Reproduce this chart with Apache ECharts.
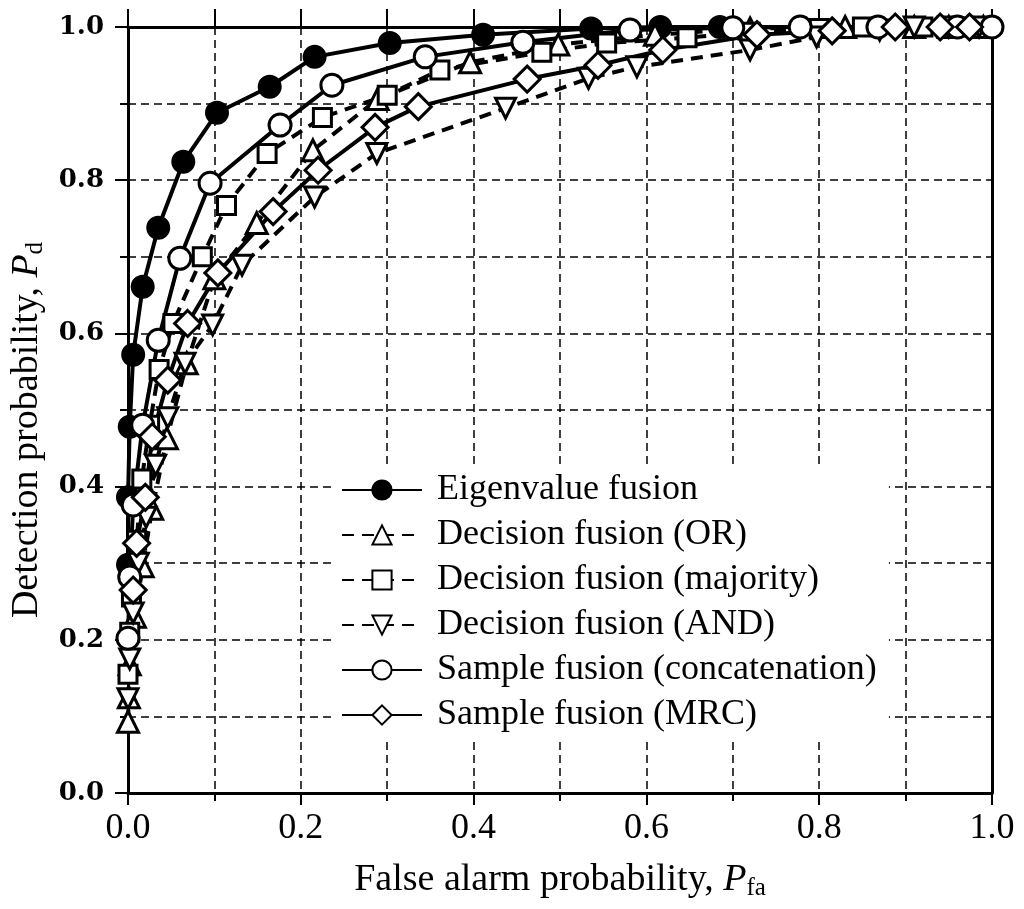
<!DOCTYPE html>
<html>
<head>
<meta charset="utf-8">
<script src="https://cdn.jsdelivr.net/npm/echarts@6/dist/echarts.min.js"></script>
<style>html,body{margin:0;padding:0;background:#fff}#c{width:1024px;height:909px}</style>
</head>
<body>
<div id="c"></div>
<script>
// ---- data (x = false alarm probability, y = detection probability) ----
const seriesNames = [
  'Eigenvalue fusion',
  'Decision fusion (OR)',
  'Decision fusion (majority)',
  'Decision fusion (AND)',
  'Sample fusion (concatenation)',
  'Sample fusion (MRC)'
];
const eigenvalue = [[0,0.298],[0,0.386],[0.002,0.478],[0.006,0.572],[0.017,0.661],[0.035,0.738],[0.064,0.824],[0.103,0.888],[0.164,0.922],[0.216,0.961],[0.303,0.979],[0.411,0.990],[0.536,0.998],[0.616,1.0],[0.685,1.0],[1.0,1.0]];
const decisionOR = [[0,0.093],[0.001,0.125],[0.002,0.168],[0.008,0.23],[0.017,0.296],[0.028,0.371],[0.045,0.463],[0.068,0.561],[0.1,0.672],[0.149,0.744],[0.214,0.839],[0.289,0.906],[0.396,0.954],[0.498,0.977],[0.61,0.99],[0.72,0.998],[0.83,1.0],[0.91,1.0],[0.95,1.0],[0.99,1.0]];
const decisionMajority = [[0,0.155],[0.002,0.21],[0.004,0.256],[0.01,0.33],[0.016,0.41],[0.025,0.48],[0.036,0.553],[0.052,0.613],[0.086,0.70],[0.114,0.767],[0.161,0.835],[0.225,0.882],[0.30,0.911],[0.361,0.944],[0.479,0.967],[0.554,0.979],[0.647,0.986],[0.72,0.993],[0.80,0.998],[0.85,1.0],[0.92,1.0],[0.97,1.0]];
const decisionAND = [[0,0.123],[0.002,0.175],[0.006,0.235],[0.012,0.3],[0.021,0.36],[0.032,0.428],[0.046,0.49],[0.066,0.561],[0.098,0.611],[0.132,0.689],[0.216,0.778],[0.288,0.835],[0.437,0.894],[0.533,0.933],[0.589,0.948],[0.72,0.970],[0.797,0.987],[0.87,0.996],[0.91,1.0],[0.95,1.0],[0.985,1.0]];
const sampleConcat = [[0,0.202],[0.002,0.282],[0.006,0.376],[0.017,0.480],[0.035,0.591],[0.060,0.698],[0.095,0.796],[0.176,0.872],[0.236,0.924],[0.344,0.961],[0.457,0.980],[0.581,0.996],[0.700,0.999],[0.778,1.0],[0.868,1.0],[0.96,1.0],[1.0,1.0]];
const sampleMRC = [[0.006,0.265],[0.01,0.326],[0.02,0.386],[0.028,0.465],[0.046,0.539],[0.069,0.613],[0.104,0.679],[0.168,0.759],[0.220,0.813],[0.286,0.869],[0.336,0.896],[0.462,0.932],[0.544,0.950],[0.619,0.970],[0.728,0.990],[0.815,0.995],[0.888,1.0],[0.94,1.0],[0.974,1.0]];
const axisMin = 0, axisMax = 1, labelStep = 0.2, gridStep = 0.1;

const chart = echarts.init(document.getElementById('c'), null, {renderer: 'canvas'});
const serif = '"Liberation Serif", "Times New Roman", serif';
const downTri = 'path://M0,0 L20,0 L10,20 Z';

function mk(name, data, symbol, size, dashed, filled) {
  return {
    name: name, type: 'line', data: data,
    symbol: symbol, symbolSize: size,
    showSymbol: true,
    lineStyle: {color: '#000', width: 4, type: dashed ? [12, 8] : 'solid'},
    itemStyle: {color: filled ? '#000' : '#fff', borderColor: '#000', borderWidth: 3},
    emphasis: {disabled: true},
    animation: false
  };
}

const nameRich = {
  n: {fontFamily: serif, fontSize: 38, color: '#000', lineHeight: 42},
  i: {fontFamily: serif, fontSize: 38, fontStyle: 'italic', color: '#000', lineHeight: 42},
  s: {fontFamily: serif, fontSize: 25, color: '#000', lineHeight: 20, verticalAlign: 'bottom'}
};

const option = {
  backgroundColor: '#fff',
  animation: false,
  grid: {left: 128, right: 32, top: 27, bottom: 116, containLabel: false, outerBoundsMode: 'none'},
  legend: {
    orient: 'vertical', left: 335, top: 464,
    backgroundColor: '#fff', padding: [6, 12, 6, 6],
    itemWidth: 80, itemHeight: 24, itemGap: 5,
    textStyle: {fontFamily: serif, fontSize: 36, color: '#000', lineHeight: 40, padding: [0, 0, 0, 10]},
    data: seriesNames
  },
  xAxis: [{
    type: 'value', min: axisMin, max: axisMax, interval: labelStep, position: 'bottom',
    name: '{n|False alarm probability, }{i|P}{s|fa}',
    nameLocation: 'middle', nameGap: 66,
    nameTextStyle: {rich: nameRich},
    axisLine: {show: true, onZero: false, lineStyle: {color: '#000', width: 3}},
    axisTick: {show: true, inside: false, length: 12, lineStyle: {color: '#000', width: 2}},
    minorTick: {show: true, splitNumber: 2, length: 8, lineStyle: {color: '#000', width: 2}},
    axisLabel: {fontFamily: serif, fontSize: 36, color: '#000', margin: 18, formatter: v => v.toFixed(1)},
    splitLine: {show: true, lineStyle: {color: '#000', width: 1.5, type: [8, 5]}},
    minorSplitLine: {show: true, lineStyle: {color: '#000', width: 1.5, type: [8, 5]}}
  }, {
    type: 'value', min: axisMin, max: axisMax, interval: gridStep, position: 'top',
    axisLine: {show: true, onZero: false, lineStyle: {color: '#000', width: 3}},
    axisTick: {show: true, length: 18, lineStyle: {color: '#000', width: 2}},
    axisLabel: {show: true, color: 'rgba(0,0,0,0)'},
    splitLine: {show: false}
  }],
  yAxis: [{
    type: 'value', min: axisMin, max: axisMax, interval: labelStep, position: 'left',
    name: '{n|Detection probability, }{i|P}{s|d}',
    nameLocation: 'middle', nameGap: 78, nameRotate: 90,
    nameTextStyle: {rich: nameRich, padding: [0, 40, 0, 0]},
    axisLine: {show: true, onZero: false, lineStyle: {color: '#000', width: 3}},
    axisTick: {show: true, inside: false, length: 13, lineStyle: {color: '#000', width: 2}},
    minorTick: {show: true, splitNumber: 2, length: 8, lineStyle: {color: '#000', width: 2}},
    axisLabel: {fontFamily: '"DejaVu Serif", serif', fontWeight: 'bold', fontSize: 26, color: '#000', margin: 24, formatter: v => v.toFixed(1)},
    splitLine: {show: true, lineStyle: {color: '#000', width: 1.5, type: [8, 5]}},
    minorSplitLine: {show: true, lineStyle: {color: '#000', width: 1.5, type: [8, 5]}}
  }, {
    type: 'value', min: axisMin, max: axisMax, interval: labelStep, position: 'right',
    axisLine: {show: true, onZero: false, lineStyle: {color: '#000', width: 3}},
    axisTick: {show: false}, axisLabel: {show: false}, splitLine: {show: false}
  }],
  series: [
    mk(seriesNames[0], eigenvalue, 'circle', 21, false, true),
    mk(seriesNames[1], decisionOR, 'triangle', 21, true, false),
    mk(seriesNames[2], decisionMajority, 'rect', 18, true, false),
    mk(seriesNames[3], decisionAND, downTri, 20, true, false),
    mk(seriesNames[4], sampleConcat, 'circle', 22, false, false),
    mk(seriesNames[5], sampleMRC, 'diamond', 26, false, false)
  ]
};
chart.setOption(option);
</script>
</body>
</html>
